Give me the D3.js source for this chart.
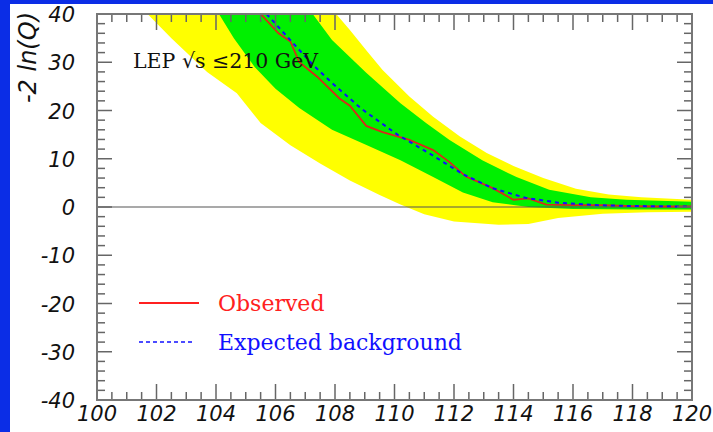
<!DOCTYPE html>
<html><head><meta charset="utf-8">
<script src="https://cdn.jsdelivr.net/npm/d3@7"></script>
<style>
html,body{margin:0;padding:0;background:#0b2de6;}
svg{display:block;}
</style></head>
<body>
<svg id="c" width="713" height="432"></svg>
<script>
// ---- data: Higgs mass (GeV) vs -2 ln(Q) ----
const observed = [[105.5,40],[106.1,36],[106.5,34.3],[106.8,30],[107.4,27],[108.15,22.5],[108.5,21],[109.05,16.8],[109.6,15.5],[110.5,13.9],[111.3,11.8],[111.85,9.3],[112.4,6.3],[113.3,3.9],[114,1.5],[114.5,1.8],[115.1,0.5],[116,0.4],[117,0.4],[118,0.2],[119,0.1],[120,0.1]];
const expected = [[105.7,40],[107.25,29.5],[107.9,25.7],[108.9,20.3],[110.1,15],[111.2,11],[112.3,6.8],[113.3,3.9],[114.4,1.9],[115.5,0.9],[116.7,0.4],[118,0.2],[120,0.1]];
const band1Upper = [[107.25,40],[107.9,34.6],[109.05,27.8],[110.2,21.5],[111.06,17.4],[111.85,13.9],[112.95,9.7],[114.1,6.2],[115.2,3.6],[116.6,2.0],[117.8,1.5],[120,1.1]];
const band1Lower = [[104.1,40],[104.6,35],[105.3,29],[106,24.5],[106.8,20.5],[107.9,16],[109,13],[110.2,9.7],[111.3,6.2],[112.3,3],[113.3,1],[114.5,0],[116,-0.4],[118,-0.5],[120,-0.5]];
const band2Upper = [[108.04,40],[108.5,36.7],[109.05,32.5],[109.6,28.4],[110.5,22.9],[111.3,18.7],[112.2,14.6],[113.1,11.2],[114,8.5],[115,6],[116.1,3.8],[117.2,2.6],[118.3,2.0],[120,1.5]];
const band2Lower = [[101.7,40],[102.5,35],[103.7,28],[104.7,23.6],[105.5,17.4],[106.5,12.8],[107.5,9],[108.5,5.5],[109.5,2.5],[110.2,0.5],[111,-1.5],[112,-3],[113.5,-3.7],[114.5,-3.5],[115.5,-2.3],[117,-1.4],[118.5,-1.1],[120,-1.0]];
const xTicks = [100,102,104,106,108,110,112,114,116,118,120];
const yTicks = [-40,-30,-20,-10,0,10,20,30,40];
const labelText = "LEP \u221As \u2264210 GeV";
const yTitle = "-2 ln(Q)";
const legendItems = ["Observed","Expected background"];

const svg = d3.select("#c");
svg.append("rect").attr("x",10).attr("y",4).attr("width",703).attr("height",428).attr("fill","#fff");

const L=97,R=692,T=14,B=400;
const x = d3.scaleLinear().domain([100,120]).range([L,R]);
const y = d3.scaleLinear().domain([-40,40]).range([B,T]);

const defs = svg.append("defs");
defs.append("clipPath").attr("id","pc").append("rect").attr("x",L).attr("y",T).attr("width",R-L).attr("height",B-T);
const g = svg.append("g").attr("clip-path","url(#pc)");

const line = d3.line().x(d=>x(d[0])).y(d=>y(d[1])).curve(d3.curveLinear);
function band(up, lo){ return line(up.concat(lo.slice().reverse())) + "Z"; }
g.append("path").attr("d",band(band2Upper,band2Lower)).attr("fill","#ffff00");
g.append("path").attr("d",band(band1Upper,band1Lower)).attr("fill","#00f000");
g.append("line").attr("x1",L).attr("x2",R).attr("y1",y(0)).attr("y2",y(0)).attr("stroke","#555").attr("stroke-width",1.2);
g.append("path").attr("d",line(observed)).attr("fill","none").attr("stroke","#d82a1a").attr("stroke-width",1.8);
g.append("path").attr("d",line(expected)).attr("fill","none").attr("stroke","#1010ff").attr("stroke-width",2).attr("stroke-dasharray","4,4");

// axes ticks
const tc="#666";
const ax = svg.append("g").attr("stroke",tc).attr("stroke-width",1.5);
const xMinor = d3.range(100,120.01,0.5);
xMinor.forEach(v=>{
  const major = Math.abs(v/2-Math.round(v/2))<1e-6;
  const len = major?16:8;
  ax.append("line").attr("x1",x(v)).attr("x2",x(v)).attr("y1",B).attr("y2",B-len);
  ax.append("line").attr("x1",x(v)).attr("x2",x(v)).attr("y1",T).attr("y2",T+len);
});
const yMinor = d3.range(-40,40.01,2);
yMinor.forEach(v=>{
  const major = v%10===0;
  const len = major?15:8;
  ax.append("line").attr("x1",L).attr("x2",L+len).attr("y1",y(v)).attr("y2",y(v));
  ax.append("line").attr("x1",R).attr("x2",R-len).attr("y1",y(v)).attr("y2",y(v));
});
svg.append("rect").attr("x",L).attr("y",T).attr("width",R-L).attr("height",B-T).attr("fill","none").attr("stroke","#777").attr("stroke-width",2);

// tick labels
const tf = "'DejaVu Sans', sans-serif";
svg.append("g").selectAll("text").data(xTicks).join("text")
  .attr("x",d=>x(d)).attr("y",421).attr("text-anchor","middle")
  .attr("font-family",tf).attr("font-style","italic").attr("font-size",21).attr("fill","#111").text(d=>d);
svg.append("g").selectAll("text").data(yTicks).join("text")
  .attr("x",75).attr("y",d=>y(d)+8).attr("text-anchor","end")
  .attr("font-family",tf).attr("font-style","italic").attr("font-size",21).attr("fill","#111").text(d=>d);

svg.append("text").attr("transform","translate(36,12) rotate(-90)").attr("text-anchor","end")
  .attr("font-family",tf).attr("font-style","italic").attr("font-size",24).attr("fill","#111").text(yTitle);

const sf = "'DejaVu Serif', serif";
svg.append("text").attr("x",133).attr("y",68).attr("font-family",sf).attr("font-size",20.5).attr("fill","#111").text(labelText);

// legend
svg.append("line").attr("x1",139).attr("x2",199).attr("y1",303).attr("y2",303).attr("stroke","#ff2020").attr("stroke-width",1.8);
svg.append("text").attr("x",218).attr("y",311).attr("font-family",sf).attr("font-size",22).attr("fill","#ff2020").text(legendItems[0]);
svg.append("line").attr("x1",139).attr("x2",192).attr("y1",342).attr("y2",342).attr("stroke","#1010ff").attr("stroke-width",1.5).attr("stroke-dasharray","4,3");
svg.append("text").attr("x",218).attr("y",350).attr("font-family",sf).attr("font-size",22).attr("fill","#1010ff").text(legendItems[1]);
</script>
</body></html>
